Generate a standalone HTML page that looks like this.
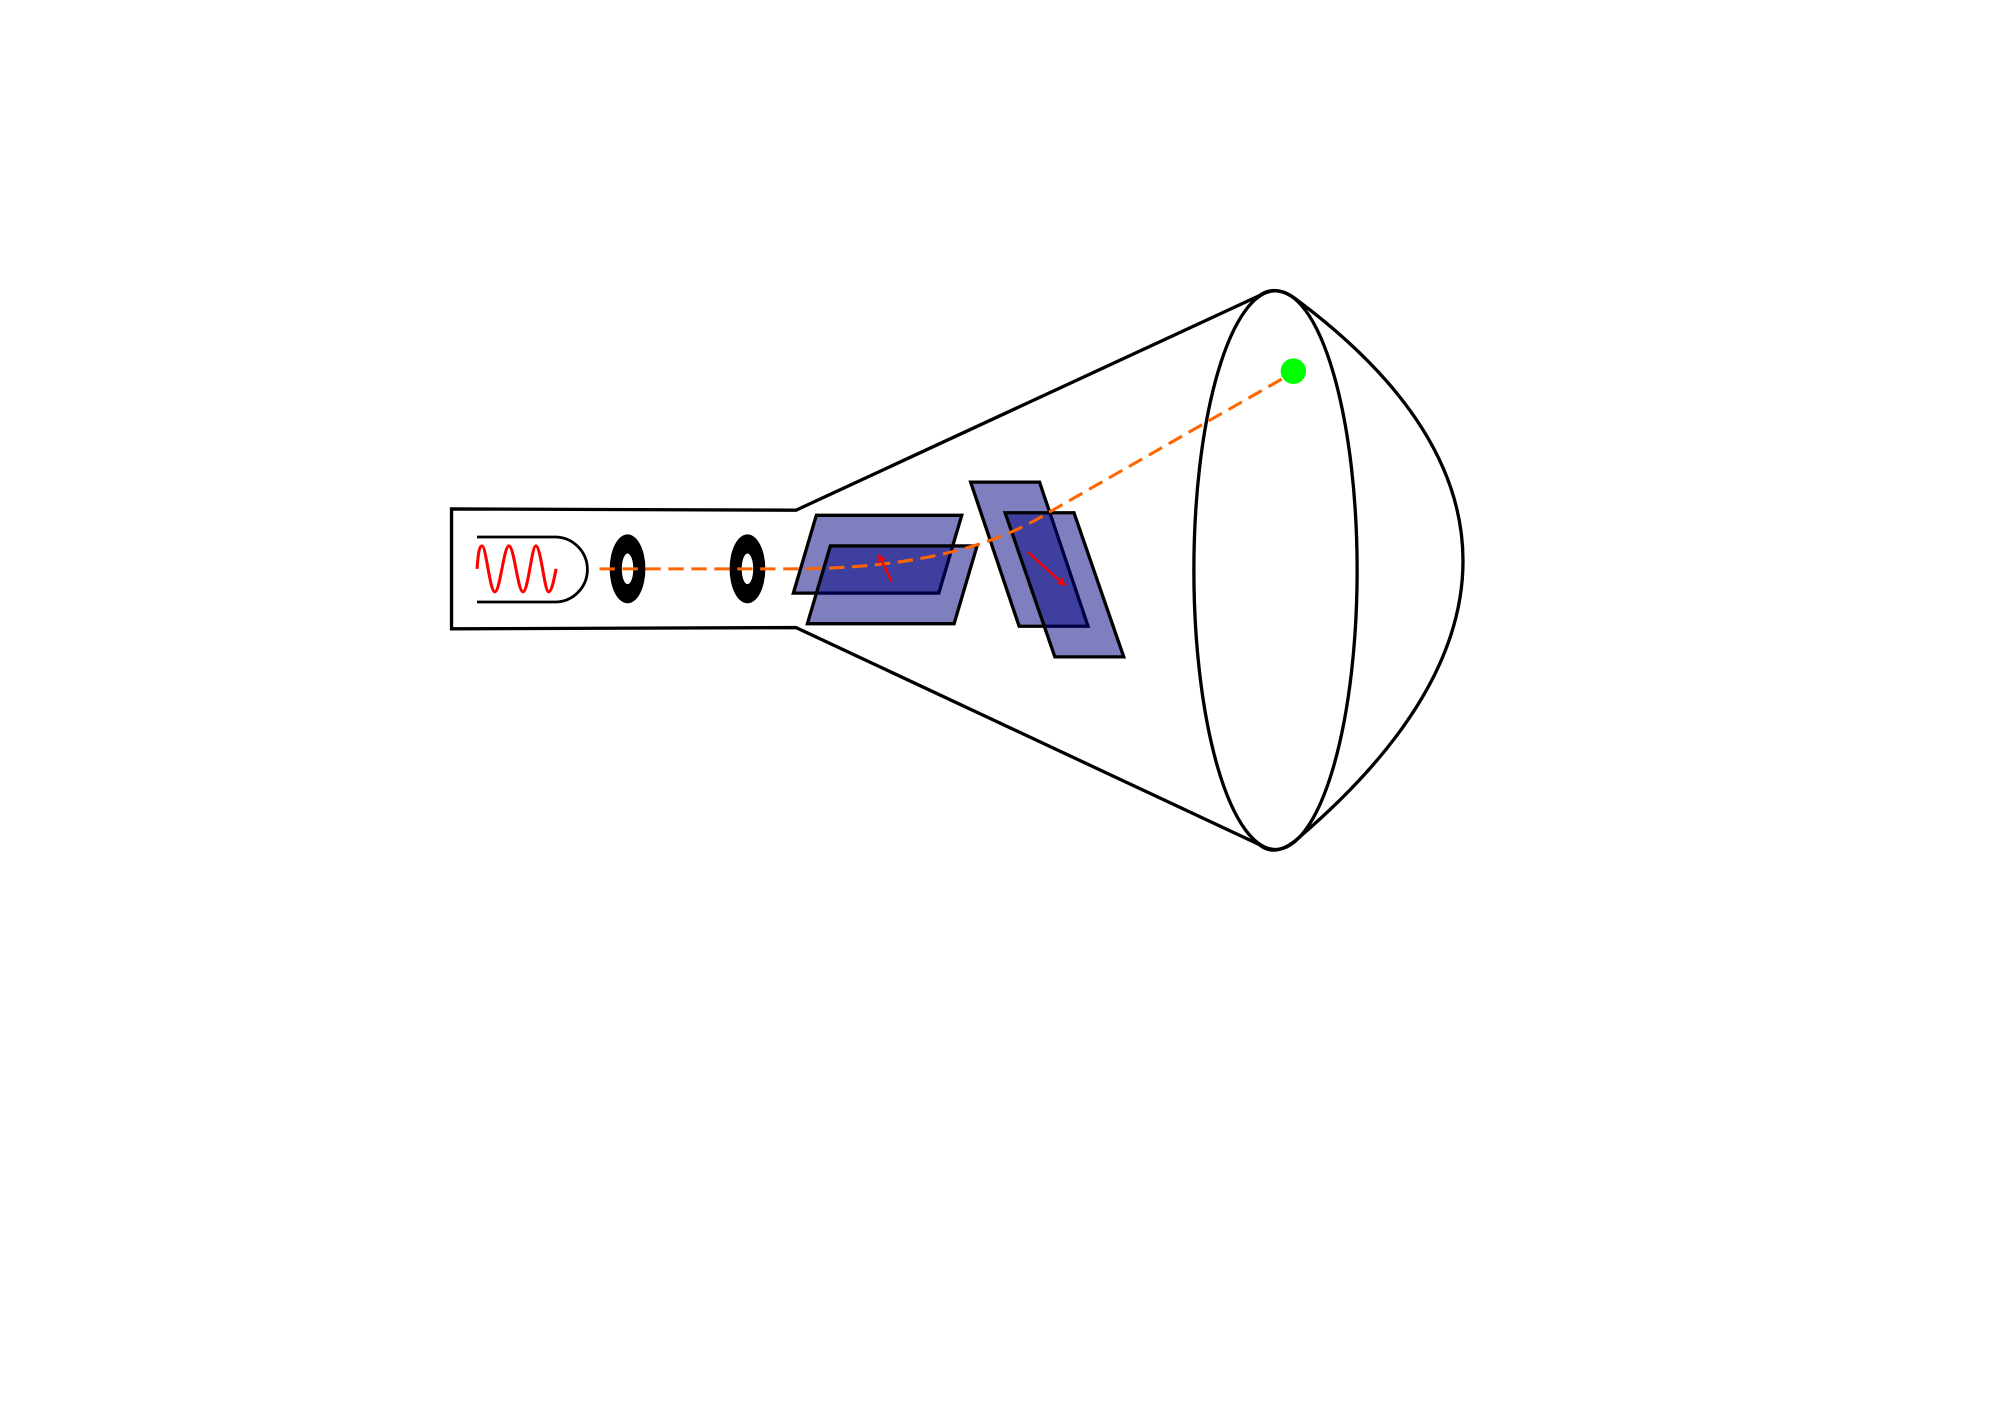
<!DOCTYPE html>
<html><head><style>html,body{margin:0;padding:0;background:#fff}svg{display:block}</style></head>
<body>
<svg width="2000" height="1414" viewBox="0 0 1568 1108.6" xmlns="http://www.w3.org/2000/svg">
<defs>
<marker id="ah" viewBox="0 0 10 10" refX="9" refY="5" markerWidth="4" markerHeight="4" orient="auto" markerUnits="strokeWidth"><path d="M0,0 L10,5 L0,10 L3,5 Z" fill="#ff0000"/></marker>
</defs>
<g fill="none" stroke="#000" stroke-width="2.6">
<path d="M987,232 L624,400 L354,399 L354,493 L624,492 L987,662"/>
<ellipse cx="1000" cy="447" rx="64" ry="219"/>
<path d="M987,232 Q1000,222 1018,236 C1190,365 1190,510 1018,657 Q1000,673 987,662"/>
</g>
<g fill="none" stroke="#000" stroke-width="2.2">
<path d="M374,421 L435,421 A25.5,25.5 0 0 1 435,472 L374,472"/>
</g>
<path d="M374,446 C375,432 376,428 378,428 C381,428 384,464 388,464 C392,464 395,428 399,428 C403,428 406,464 410,464 C414,464 417,428 420,428 C424,428 427,464 430,464 C433,464 435,450 436,446" fill="none" stroke="#ff0000" stroke-width="2.4"/>
<ellipse cx="492" cy="446" rx="14" ry="27"/>
<ellipse cx="492" cy="446" rx="4.5" ry="12" fill="#fff"/>
<ellipse cx="586" cy="446" rx="14" ry="27"/>
<ellipse cx="586" cy="446" rx="4.5" ry="12" fill="#fff"/>
<g stroke="#000" stroke-width="2.6" fill="rgba(0,0,128,0.5)">
<polygon points="640,404 754,404 736,465 622,465"/>
<polygon points="651,428 766,428 748,489 633,489"/>
<polygon points="761,378 815,378 853,491 799,491"/>
<polygon points="788,402 842,402 881,515 827,515"/>
</g>
<path d="M470,446 L620,446 Q750,446 820,403 L1014,292" fill="none" stroke="#ff6600" stroke-width="2.4" stroke-dasharray="12,6"/>
<circle cx="1014" cy="291" r="10" fill="#00ff00"/>
<line x1="699" y1="456" x2="689" y2="435" stroke="#ff0000" stroke-width="1.8" marker-end="url(#ah)"/>
<line x1="806" y1="433" x2="835" y2="459" stroke="#ff0000" stroke-width="1.8" marker-end="url(#ah)"/>
</svg>
</body></html>
